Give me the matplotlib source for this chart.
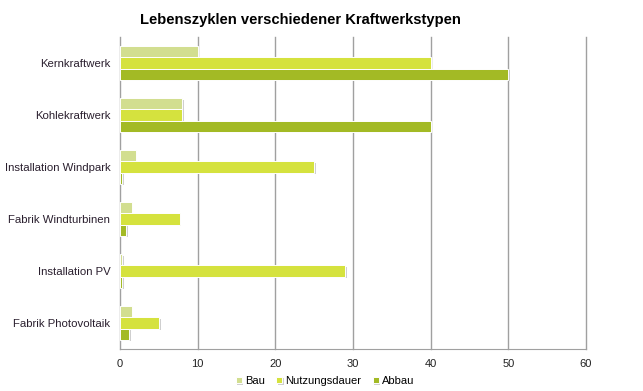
import matplotlib
matplotlib.use("Agg")
import matplotlib.pyplot as plt
import matplotlib.patheffects as pe
import numpy as np

categories = ["Kernkraftwerk", "Kohlekraftwerk", "Installation Windpark",
              "Fabrik Windturbinen", "Installation PV", "Fabrik Photovoltaik"]
bau = [10, 8, 2, 1.5, 0.3, 1.5]
nutzung = [40, 8, 25, 7.7, 29, 5]
abbau = [50, 40, 0.3, 0.8, 0.3, 1.2]
series_names = ["Bau", "Nutzungsdauer", "Abbau"]
colors = ["#d2de90", "#d5e23e", "#a3ba25"]
xticks = [0, 10, 20, 30, 40, 50, 60]

plt.rcParams['font.family'] = ['Liberation Sans', 'DejaVu Sans']

fig = plt.figure(figsize=(6.43, 3.91), dpi=100)
ax = fig.add_axes([120/643, 1-349/391, (586-120)/643, (349-37)/391])

n = len(categories)
ypos = np.arange(n)[::-1]
h = 0.215
shadow = [pe.SimplePatchShadow(offset=(1.2, -1.2), shadow_rgbFace="#b0b0b0", alpha=0.6), pe.Normal()]
for i, (vals, name, c) in enumerate(zip([bau, nutzung, abbau], series_names, colors)):
    offs = (1 - i) * h
    bars = ax.barh(ypos + offs, vals, height=h, color=c, edgecolor="white",
                   linewidth=0.7, label=name, zorder=3)
    for b in bars:
        b.set_path_effects(shadow)

ax.set_xlim(0, 60)
ax.set_ylim(-0.5, n - 0.5)
ax.set_xticks(xticks)
ax.set_xticklabels([str(t) for t in xticks], fontsize=8, color="#222222")
ax.set_yticks(ypos)
ax.set_yticklabels(categories, fontsize=8.2, color="#2a1f2e")
ax.tick_params(axis="both", length=0, pad=7)
for t in xticks:
    ax.axvline(t, color="#a0a0a0", linewidth=1, zorder=0, clip_on=False)
for s in ["top", "right", "left"]:
    ax.spines[s].set_visible(False)
ax.spines["bottom"].set_color("#a0a0a0")

fig.text(300/643, 1 - 20/391, "Lebenszyklen verschiedener Kraftwerkstypen",
         ha="center", va="center", fontsize=10.6, fontweight="bold")

leg = ax.legend(loc="center", bbox_to_anchor=((325-120)/466, -(381-349)/312), ncol=3,
                frameon=False, fontsize=8, handlelength=0.55, handleheight=0.55,
                handletextpad=0.3, columnspacing=1.0)

fig.savefig("out.png", dpi=100)
